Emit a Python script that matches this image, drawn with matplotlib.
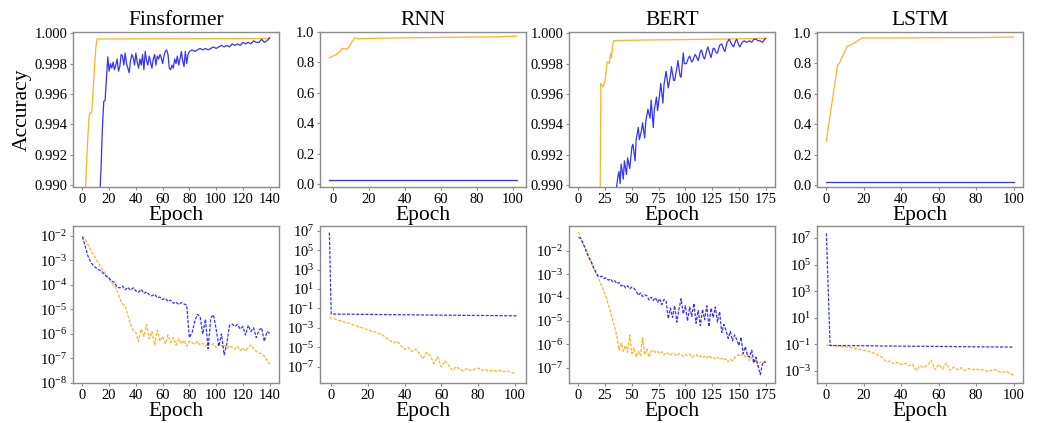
import numpy as np
import matplotlib
matplotlib.use("Agg")
import matplotlib.pyplot as plt
from matplotlib.ticker import FormatStrFormatter, NullLocator, FixedLocator

plt.rcParams['font.family'] = ['Liberation Serif', 'DejaVu Serif']
plt.rcParams['mathtext.fontset'] = 'custom'
plt.rcParams['mathtext.rm'] = 'Liberation Serif'
plt.rcParams['mathtext.it'] = 'Liberation Serif:italic'
plt.rcParams['mathtext.default'] = 'regular'

titles = ["Finsformer", "RNN", "BERT", "LSTM"]

# ---- accuracy (top row) ----
fin_train_acc_x = [0, 1, 2, 3, 4, 5, 6, 7, 8, 9, 10, 11, 140]
fin_train_acc = [0.9845, 0.9865, 0.9888, 0.9912, 0.9930, 0.9945, 0.9948, 0.9948,
                 0.9962, 0.9976, 0.9990, 0.99962, 0.99965]
fin_val_acc_x = [0, 4, 8, 11, 13, 14, 15, 16, 17, 18, 19] + list(range(20, 81)) + list(range(82, 141, 2))
fin_val_acc = [0.950, 0.965, 0.978, 0.985, 0.9893, 0.9912, 0.9938, 0.9955, 0.9956, 0.9970, 0.99845,
               0.9975, 0.9980, 0.9977, 0.9981, 0.9976, 0.9979, 0.9983, 0.9975, 0.9978, 0.9986,
               0.9985, 0.9979, 0.9987, 0.9980, 0.9977, 0.9974, 0.9982, 0.9986, 0.9984, 0.9979,
               0.9987, 0.9981, 0.9977, 0.9983, 0.9979, 0.9986, 0.9976, 0.9988, 0.9982, 0.9979,
               0.9985, 0.9981, 0.9977, 0.9983, 0.9986, 0.9979, 0.9985, 0.9983, 0.9986, 0.9984,
               0.9980, 0.9985, 0.9988, 0.9989, 0.9986, 0.9977, 0.9976, 0.9979, 0.9977, 0.9983,
               0.9980, 0.9985, 0.9979, 0.9983, 0.9988, 0.9982, 0.9978, 0.9988, 0.9980, 0.9986,
               0.9988,
               0.9989, 0.9988, 0.9989, 0.9990, 0.9989, 0.9990, 0.9989, 0.9990, 0.9991, 0.9990,
               0.9991, 0.9992, 0.9991, 0.9992, 0.9991, 0.9993, 0.9992, 0.9993, 0.9992, 0.9994,
               0.9993, 0.9994, 0.9993, 0.9995, 0.9994, 0.9994, 0.9996, 0.9994, 0.9995, 0.9997]

rnn_train_acc_x = [-2, 0, 2, 4, 5, 8, 12, 14, 30, 50, 70, 90, 102]
rnn_train_acc = [0.830, 0.842, 0.853, 0.872, 0.893, 0.887, 0.962, 0.956, 0.960, 0.963, 0.966, 0.968, 0.973]
rnn_val_acc_x = [-2, 20, 50, 80, 102]
rnn_val_acc = [0.030, 0.030, 0.030, 0.030, 0.030]

bert_train_acc_x = [0, 10, 20, 21, 22, 23, 24, 25, 26, 27, 28, 29, 30, 31, 32, 33, 60, 100, 140, 175]
bert_train_acc = [0.960, 0.975, 0.985, 0.99668, 0.99655, 0.99646, 0.9967, 0.9969, 0.9975, 0.99812,
                  0.9981, 0.9980, 0.99867, 0.9984, 0.9992, 0.99951, 0.99955, 0.99958, 0.99962, 0.99966]
bert_val_acc_x = [0, 20, 30, 35, 37, 38, 39, 40, 42, 43, 45, 46, 48, 50, 51, 53, 54, 56, 57, 59,
                  60, 62, 63, 65, 67, 68, 70, 71, 73, 74, 76, 77, 79, 80, 82, 84, 86, 87, 89, 90,
                  92, 93, 95, 96, 98, 99, 101, 103, 104, 106, 107, 109, 110, 112, 114, 115, 117, 118, 120, 121,
                  123, 124, 126, 127, 129, 130, 132, 134, 136, 137, 139, 141, 143, 145, 147, 148, 150, 151, 153, 155,
                  157, 160, 162, 164, 166, 168, 170, 172, 173, 175]
bert_val_acc = [0.950, 0.975, 0.985, 0.9895, 0.9906, 0.9909, 0.9901, 0.9914, 0.9904, 0.9916,
                0.9907, 0.9918, 0.9911, 0.9925, 0.9927, 0.9916, 0.9930, 0.9938, 0.9930, 0.9936,
                0.9941, 0.9931, 0.9942, 0.9950, 0.9944, 0.9956, 0.9938, 0.9950, 0.9958, 0.9949,
                0.9960, 0.9967, 0.9954, 0.9966, 0.9975, 0.9964, 0.9972, 0.9978, 0.9969, 0.9969,
                0.9977, 0.9982, 0.9972, 0.9971, 0.9987, 0.9980, 0.9980, 0.9984, 0.9985, 0.9981,
                0.9982, 0.9986, 0.9985, 0.9982, 0.9988, 0.9989, 0.9984, 0.9983, 0.9989, 0.9991,
                0.9986, 0.9984, 0.9990, 0.9990, 0.9987, 0.9987, 0.9992, 0.9993, 0.9989, 0.9988,
                0.9994, 0.9996, 0.9993, 0.9991, 0.9995, 0.9996, 0.9992, 0.9991, 0.9994, 0.9995,
                0.9994, 0.9995, 0.9994, 0.9996, 0.9996, 0.9995, 0.9995, 0.9994, 0.9995, 0.99966]

lstm_train_acc_x = [0, 6, 7, 8, 11, 14, 17, 19, 40, 60, 80, 85, 100]
lstm_train_acc = [0.290, 0.790, 0.800, 0.830, 0.910, 0.925, 0.950, 0.966, 0.966, 0.968, 0.968, 0.969, 0.972]
lstm_val_acc_x = [0, 25, 50, 75, 100]
lstm_val_acc = [0.020, 0.020, 0.020, 0.020, 0.020]

# ---- loss (bottom row), stored as log10(loss) ----
fin_loss_x = list(range(0, 141, 2))
fin_val_loss_log10 = [-2.04, -2.40, -2.80, -3.05, -3.20, -3.30, -3.38, -3.42, -3.55, -3.65,
                      -3.72, -3.85, -3.90, -4.10, -4.12, -4.05, -4.20, -4.10, -4.22, -4.12,
                      -4.25, -4.30, -4.18, -4.35, -4.28, -4.40, -4.45, -4.38, -4.52, -4.50,
                      -4.60, -4.55, -4.68, -4.62, -4.75, -4.70, -4.80, -4.72, -4.78, -4.82,
                      -6.15, -5.95, -5.50, -5.20, -5.30, -6.00, -5.40, -6.60, -5.35, -5.22,
                      -5.80, -6.50, -6.00, -6.85, -6.40, -5.65, -5.60, -5.70, -5.62, -5.80,
                      -5.70, -6.05, -5.65, -5.90, -5.75, -6.15, -5.85, -5.75, -6.30, -5.90, -5.98]
fin_train_loss_log10 = [-2.00, -2.15, -2.35, -2.55, -2.75, -2.92, -3.10, -3.28, -3.45, -3.62,
                        -3.78, -3.92, -4.02, -4.25, -4.55, -4.78, -4.85, -5.25, -5.60, -5.85,
                        -5.95, -6.30, -5.80, -6.10, -5.62, -6.20, -5.90, -6.45, -5.85, -6.30,
                        -6.10, -6.40, -6.05, -6.35, -6.15, -6.45, -6.20, -6.40, -6.25, -6.50,
                        -6.30, -6.35, -6.42, -6.30, -6.45, -6.38, -6.50, -6.35, -6.45, -6.40,
                        -6.55, -6.40, -6.50, -6.45, -6.60, -6.48, -6.55, -6.62, -6.50, -6.68,
                        -6.58, -6.70, -6.55, -6.45, -6.60, -6.72, -6.78, -6.80, -6.90, -7.05, -7.23]

rnn_val_loss_x = [-1, 0, 20, 40, 60, 80, 101]
rnn_val_loss_log10 = [6.82, -1.58, -1.62, -1.66, -1.70, -1.73, -1.77]
rnn_train_loss_x = [-1] + list(range(2, 101, 2))
rnn_train_loss_log10 = [-1.95, -2.10, -2.22, -2.32, -2.45, -2.55, -2.70, -2.82, -2.95, -3.10,
                        -3.20, -3.35, -3.42, -3.60, -3.75, -4.05, -4.30, -4.55, -4.40, -4.85,
                        -5.25, -5.05, -5.45, -5.20, -5.65, -6.20, -5.55, -5.90, -6.70, -6.00,
                        -7.05, -6.40, -6.90, -7.40, -7.00, -7.25, -7.45, -7.20, -7.40, -7.30,
                        -7.15, -7.40, -7.30, -7.50, -7.35, -7.50, -7.40, -7.55, -7.45, -7.60, -7.70]

bert_loss_x = list(range(0, 175, 2)) + [175]
bert_val_loss_log10 = [-1.42, -1.45, -1.65, -1.85, -2.10, -2.30, -2.45, -2.70, -2.88, -3.05,
                       -3.12, -3.08, -3.18, -3.15, -3.25, -3.20, -3.32, -3.28, -3.40, -3.35,
                       -3.50, -3.45, -3.58, -3.50, -3.62, -3.55, -3.60, -3.72, -3.90, -3.80,
                       -3.95, -3.88, -3.92, -4.10, -3.98, -4.12, -4.00, -4.20, -4.05, -4.30,
                       -4.08, -4.15, -4.90, -4.45, -4.85, -4.35, -5.05, -4.50, -4.05, -4.70,
                       -4.35, -5.00, -4.40, -4.80, -4.25, -5.10, -4.55, -5.20, -4.50, -4.95,
                       -4.35, -5.25, -4.45, -4.85, -4.40, -5.05, -4.60, -5.50, -5.15, -5.40,
                       -5.75, -5.45, -5.85, -5.60, -5.80, -6.05, -5.70, -6.40, -6.10, -6.50,
                       -6.55, -6.25, -6.80, -6.55, -6.95, -7.30, -6.85, -6.75, -6.80]
bert_train_loss_log10 = [-1.20, -1.40, -1.60, -1.82, -2.00, -2.25, -2.50, -2.70, -2.90, -3.10,
                         -3.30, -3.50, -3.75, -4.00, -4.30, -4.60, -4.95, -5.30, -5.65, -6.25,
                         -5.95, -6.30, -6.05, -6.35, -5.60, -6.40, -6.15, -6.55, -6.30, -6.50,
                         -5.72, -6.45, -6.20, -6.55, -6.30, -6.25, -6.35, -6.30, -6.40, -6.32,
                         -6.45, -6.35, -6.40, -6.48, -6.38, -6.42, -6.50, -6.40, -6.45, -6.52,
                         -6.45, -6.48, -6.42, -6.55, -6.50, -6.45, -6.55, -6.50, -6.58, -6.52,
                         -6.60, -6.48, -6.58, -6.55, -6.62, -6.55, -6.65, -6.60, -6.68, -6.62,
                         -6.75, -6.65, -6.70, -6.58, -6.50, -6.45, -6.50, -6.40, -6.55, -6.45,
                         -6.70, -6.55, -6.80, -6.65, -6.95, -6.75, -6.85, -6.70, -6.75]

lstm_val_loss_x = [0, 2, 20, 40, 60, 80, 100]
lstm_val_loss_log10 = [7.35, -1.08, -1.10, -1.13, -1.15, -1.18, -1.20]
lstm_train_loss_x = list(range(0, 101, 2))
lstm_train_loss_log10 = [-1.05, -1.08, -1.10, -1.12, -1.15, -1.18, -1.22, -1.28, -1.32, -1.38,
                         -1.45, -1.50, -1.58, -1.70, -1.85, -2.00, -2.30, -2.25, -2.45, -2.35,
                         -2.50, -2.40, -2.60, -2.50, -2.95, -2.60, -2.75, -2.55, -2.18, -2.90,
                         -2.50, -2.85, -2.40, -2.95, -2.70, -2.90, -2.75, -2.95, -2.80, -2.90,
                         -2.85, -2.95, -2.90, -3.05, -2.95, -2.88, -3.05, -3.10, -3.00, -3.20, -3.30]

ORANGE = '#FFA500'
BLUE = '#0000FF'
GRAY = '#8c8c8c'

fig = plt.figure(figsize=(10.38, 4.23), dpi=100)
lefts = [73, 320, 569, 817]
W, H = 1038, 423
top_axes = [fig.add_axes([l / W, 1 - 187 / H, 206 / W, 155 / H]) for l in lefts]
bot_axes = [fig.add_axes([l / W, 1 - 383 / H, 206 / W, 157 / H]) for l in lefts]

acc_data = [
    (fin_train_acc_x, fin_train_acc, fin_val_acc_x, fin_val_acc),
    (rnn_train_acc_x, rnn_train_acc, rnn_val_acc_x, rnn_val_acc),
    (bert_train_acc_x, bert_train_acc, bert_val_acc_x, bert_val_acc),
    (lstm_train_acc_x, lstm_train_acc, lstm_val_acc_x, lstm_val_acc),
]
loss_data = [
    (fin_loss_x, fin_train_loss_log10, fin_loss_x, fin_val_loss_log10),
    (rnn_train_loss_x, rnn_train_loss_log10, rnn_val_loss_x, rnn_val_loss_log10),
    (bert_loss_x, bert_train_loss_log10, bert_loss_x, bert_val_loss_log10),
    (lstm_train_loss_x, lstm_train_loss_log10, lstm_val_loss_x, lstm_val_loss_log10),
]

xticks = [range(0, 141, 20), range(0, 101, 20), range(0, 176, 25), range(0, 101, 20)]
acc_ylims = [(0.98988, 1.00008), (-0.018, 1.0), (0.98988, 1.00008), (-0.012, 1.005)]
acc_yticks = [[0.990, 0.992, 0.994, 0.996, 0.998, 1.000], [0, 0.2, 0.4, 0.6, 0.8, 1.0],
              [0.990, 0.992, 0.994, 0.996, 0.998, 1.000], [0, 0.2, 0.4, 0.6, 0.8, 1.0]]
acc_fmt = ['%.3f', '%.1f', '%.3f', '%.1f']
loss_ylims = [(10 ** -8.0, 10 ** -1.6), (10 ** -8.7, 10 ** 7.5), (10 ** -7.66, 10 ** -0.93), (10 ** -3.9, 10 ** 7.9)]
loss_yexp = [range(-8, -1), range(-7, 8, 2), range(-7, -1), range(-3, 8, 2)]


def style(ax):
    for s in ax.spines.values():
        s.set_color(GRAY)
        s.set_linewidth(1.0)
    ax.tick_params(length=2.5, width=0.8, color=GRAY, labelsize=10.5, pad=1.5)
    ax.set_xlabel("Epoch", fontsize=15.5, labelpad=0)


for i, ax in enumerate(top_axes):
    tx, ty, vx, vy = acc_data[i]
    ax.plot(tx, ty, color=ORANGE, lw=0.9, alpha=0.85)
    ax.plot(vx, vy, color=BLUE, lw=0.9, alpha=0.8)
    ax.set_ylim(*acc_ylims[i])
    ax.set_xticks(list(xticks[i]))
    ax.set_yticks(acc_yticks[i])
    ax.yaxis.set_major_formatter(FormatStrFormatter(acc_fmt[i]))
    ax.set_title(titles[i], fontsize=15.5, pad=5)
    style(ax)
top_axes[0].set_ylabel("Accuracy", fontsize=15.5, labelpad=2)

for i, ax in enumerate(bot_axes):
    tx, ty, vx, vy = loss_data[i]
    ax.plot(tx, np.power(10.0, ty), color=ORANGE, lw=0.9, ls=(0, (2.5, 1.2)), alpha=0.85)
    ax.plot(vx, np.power(10.0, vy), color=BLUE, lw=0.9, ls=(0, (2.5, 1.2)), alpha=0.8)
    ax.set_yscale('log')
    ax.set_ylim(*loss_ylims[i])
    ax.yaxis.set_major_locator(FixedLocator([10.0 ** e for e in loss_yexp[i]]))
    ax.yaxis.set_minor_locator(NullLocator())
    ax.set_xticks(list(xticks[i]))
    style(ax)

fig.savefig("out.png", dpi=100)
plt.close()
